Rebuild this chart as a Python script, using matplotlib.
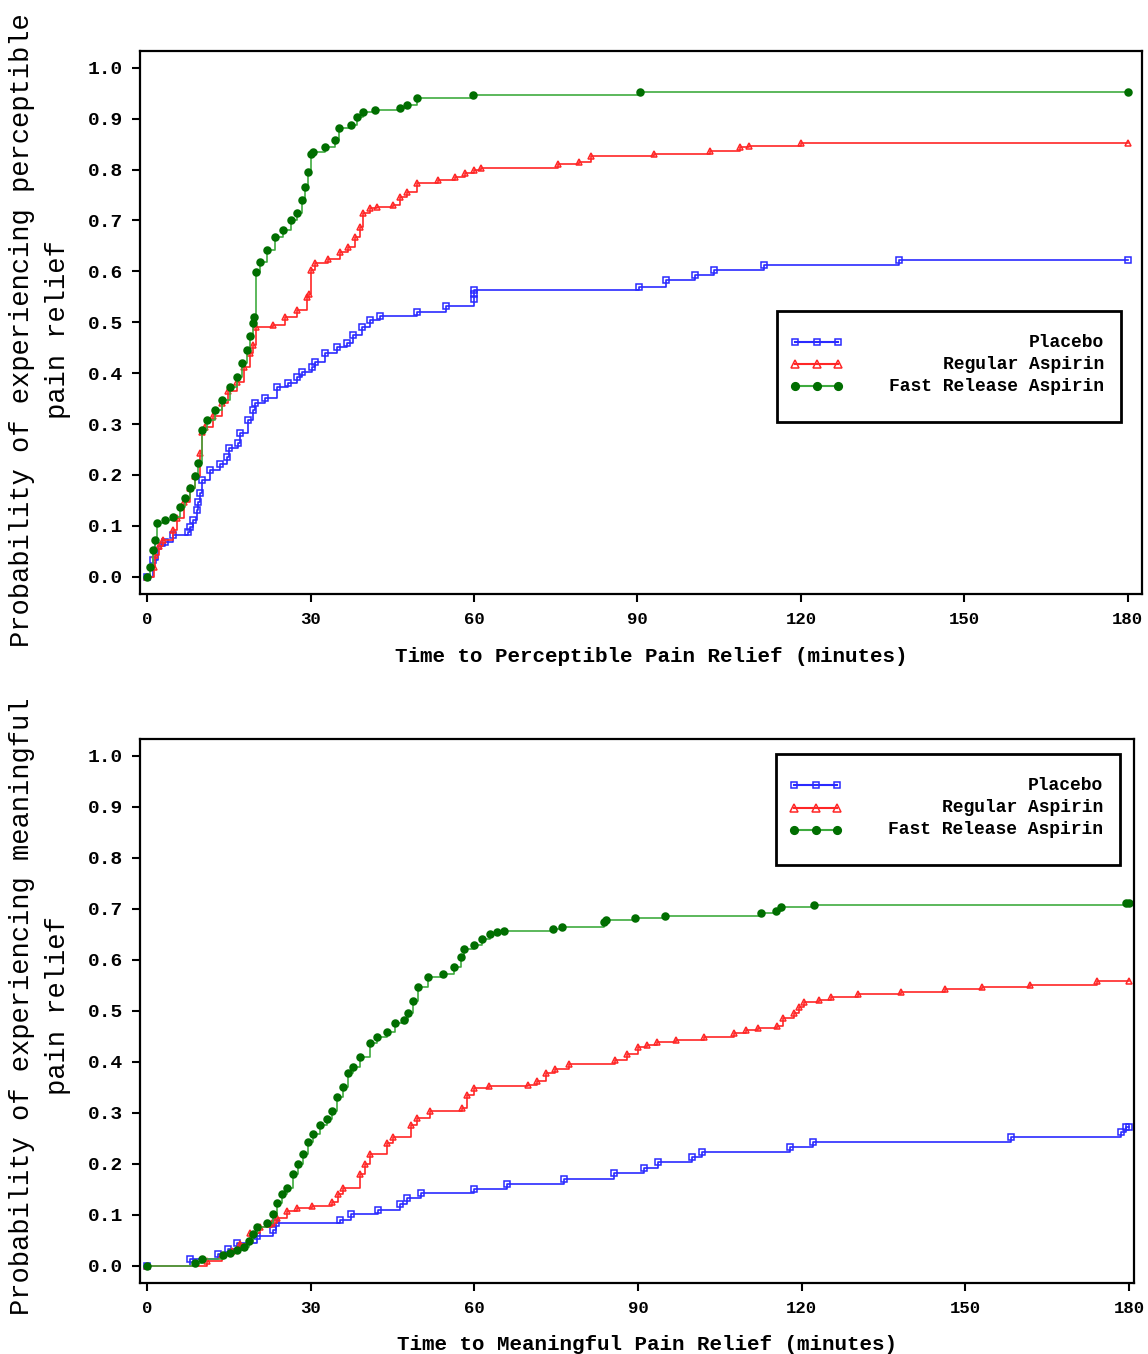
import matplotlib
matplotlib.use("Agg")
import matplotlib.pyplot as plt
from matplotlib.patches import Rectangle

MONO = "Liberation Mono"

groups = ["Placebo", "Regular Aspirin", "Fast Release Aspirin"]

# ---- top panel: time to perceptible pain relief (KM steps)
perc_placebo_t = [0, 1.1, 2.0, 3.3, 4.8, 7.5, 7.9, 8.5, 9.1, 9.4, 9.7, 10.0, 11.6, 13.4, 14.7, 15.1,
                  16.7, 17.1, 18.5, 19.5, 19.8, 21.7, 23.8, 25.9, 27.5, 28.5, 30.3, 30.8, 32.7, 34.8,
                  36.7, 37.8, 39.4, 40.9, 42.8, 49.5, 54.9, 60.0, 60.0, 60.0, 90.2, 95.3, 100.6,
                  104.0, 113.2, 138.0, 180]
perc_placebo_p = [0.0, 0.033, 0.06, 0.068, 0.082, 0.088, 0.098, 0.112, 0.132, 0.147, 0.165, 0.19,
                  0.21, 0.222, 0.236, 0.253, 0.263, 0.283, 0.308, 0.328, 0.342, 0.352, 0.373, 0.381,
                  0.393, 0.403, 0.413, 0.422, 0.44, 0.452, 0.46, 0.475, 0.491, 0.505, 0.513, 0.52,
                  0.532, 0.545, 0.555, 0.564, 0.57, 0.583, 0.593, 0.602, 0.613, 0.623, 0.623]

perc_regular_t = [0, 1.2, 1.5, 2.1, 3.0, 4.8, 5.5, 6.7, 7.9, 8.8, 9.7, 10.0, 10.6, 12.1, 13.7, 14.9,
                  16.5, 17.7, 18.9, 19.5, 20.0, 23.1, 25.3, 27.5, 29.3, 29.7, 30.0, 30.8, 33.2, 35.4,
                  36.9, 38.2, 39.1, 39.7, 40.9, 42.2, 45.1, 46.4, 47.7, 49.5, 53.4, 56.5, 58.3, 60.0,
                  61.2, 75.5, 79.2, 81.5, 93.0, 103.4, 108.9, 110.5, 120.0, 180]
perc_regular_p = [0.0, 0.02, 0.043, 0.06, 0.073, 0.092, 0.116, 0.147, 0.175, 0.197, 0.244, 0.285,
                  0.295, 0.315, 0.342, 0.364, 0.383, 0.413, 0.44, 0.456, 0.491, 0.495, 0.51, 0.525,
                  0.55, 0.555, 0.603, 0.617, 0.625, 0.639, 0.648, 0.668, 0.688, 0.715, 0.725, 0.727,
                  0.731, 0.747, 0.756, 0.774, 0.78, 0.786, 0.793, 0.80, 0.803, 0.81, 0.815, 0.826,
                  0.831, 0.836, 0.844, 0.846, 0.852, 0.852]

perc_fast_t = [0, 0.6, 1.0, 1.5, 1.8, 3.3, 4.8, 6.1, 7.0, 7.9, 8.8, 9.4, 10.0, 11.0, 12.5, 13.7,
               15.2, 16.5, 17.4, 18.3, 18.9, 19.4, 19.7, 20.0, 20.7, 22.0, 23.5, 25.0, 26.5, 27.5,
               28.4, 29.0, 29.5, 30.0, 30.5, 32.7, 34.5, 35.2, 37.4, 38.5, 39.7, 41.8, 46.4, 47.7,
               49.5, 59.9, 90.5, 180]
perc_fast_p = [0.0, 0.02, 0.053, 0.073, 0.106, 0.112, 0.118, 0.136, 0.155, 0.175, 0.197, 0.224,
               0.289, 0.308, 0.328, 0.348, 0.373, 0.393, 0.42, 0.446, 0.472, 0.499, 0.51, 0.599,
               0.619, 0.642, 0.668, 0.682, 0.70, 0.715, 0.74, 0.766, 0.795, 0.830, 0.835, 0.845,
               0.858, 0.882, 0.888, 0.904, 0.913, 0.917, 0.921, 0.927, 0.941, 0.947, 0.953, 0.953]

# ---- bottom panel: time to meaningful pain relief
mean_placebo_t = [0, 7.9, 13.0, 14.9, 16.5, 20.1, 23.1, 23.6, 35.4, 37.3, 42.4, 46.3, 47.6, 50.2,
                  60.0, 66.0, 76.5, 85.6, 91.0, 93.7, 99.9, 101.8, 117.9, 122.0, 158.4, 178.5,
                  179.5, 180]
mean_placebo_p = [0.0, 0.014, 0.023, 0.033, 0.045, 0.058, 0.069, 0.083, 0.09, 0.102, 0.11, 0.12,
                  0.133, 0.142, 0.151, 0.161, 0.17, 0.181, 0.192, 0.203, 0.213, 0.223, 0.232,
                  0.242, 0.253, 0.262, 0.272, 0.272]

mean_regular_t = [0, 11.0, 13.8, 15.6, 17.1, 18.9, 20.7, 22.9, 23.8, 25.7, 27.5, 30.3, 33.9, 35.0,
                  36.0, 39.0, 40.0, 40.9, 44.0, 45.1, 48.3, 49.5, 51.9, 57.8, 58.7, 59.9, 62.6,
                  69.9, 71.5, 73.2, 74.8, 77.3, 85.8, 88.0, 89.9, 91.6, 93.5, 96.9, 102.0, 107.6,
                  109.7, 111.9, 115.5, 116.5, 118.5, 119.5, 120.4, 123.1, 125.3, 130.4, 138.2,
                  146.3, 153.1, 161.8, 174.2, 180]
mean_regular_p = [0.0, 0.01, 0.02, 0.029, 0.043, 0.065, 0.075, 0.083, 0.094, 0.108, 0.114, 0.118,
                  0.124, 0.141, 0.153, 0.18, 0.20, 0.22, 0.24, 0.252, 0.275, 0.289, 0.304, 0.31,
                  0.334, 0.348, 0.352, 0.355, 0.362, 0.377, 0.385, 0.395, 0.404, 0.416, 0.429,
                  0.432, 0.438, 0.442, 0.448, 0.456, 0.462, 0.466, 0.471, 0.485, 0.495, 0.507,
                  0.517, 0.522, 0.527, 0.532, 0.537, 0.542, 0.547, 0.551, 0.559, 0.559]

mean_fast_t = [0, 8.8, 10.0, 14.0, 15.2, 16.5, 17.7, 18.6, 19.5, 20.1, 22.0, 23.1, 23.8, 24.8,
               25.7, 26.8, 27.7, 28.6, 29.5, 30.5, 31.7, 33.0, 33.9, 34.8, 36.0, 36.9, 37.8, 39.0,
               40.9, 42.2, 44.0, 45.5, 47.0, 47.9, 48.8, 49.7, 51.4, 54.2, 56.3, 57.6, 58.0, 60.0,
               61.3, 62.9, 64.2, 65.4, 74.4, 76.0, 83.8, 84.2, 89.5, 94.9, 112.6, 115.2, 116.2,
               122.2, 179.4, 180]
mean_fast_p = [0.0, 0.006, 0.014, 0.02, 0.024, 0.03, 0.036, 0.049, 0.063, 0.075, 0.084, 0.102,
               0.122, 0.141, 0.153, 0.18, 0.20, 0.22, 0.242, 0.259, 0.275, 0.288, 0.304, 0.33,
               0.35, 0.377, 0.389, 0.409, 0.436, 0.448, 0.458, 0.475, 0.481, 0.495, 0.52, 0.546,
               0.566, 0.573, 0.585, 0.605, 0.621, 0.628, 0.641, 0.651, 0.654, 0.657, 0.661, 0.665,
               0.674, 0.678, 0.681, 0.686, 0.691, 0.696, 0.703, 0.707, 0.712, 0.712]

xticks = [0, 30, 60, 90, 120, 150, 180]
yticks = [0.0, 0.1, 0.2, 0.3, 0.4, 0.5, 0.6, 0.7, 0.8, 0.9, 1.0]

styles = {
    "Placebo": dict(line="#2a2aff", marker="s", mfc="none", mec="#2a2aff", ms=4.5),
    "Regular Aspirin": dict(line="#ff2626", marker="^", mfc="none", mec="#ff2626", ms=5),
    "Fast Release Aspirin": dict(line="#3fab3f", marker="o", mfc="#006e00", mec="#006e00", ms=5),
}


def draw_curves(ax, series):
    for name, (t, p) in zip(groups, series):
        s = styles[name]
        ax.step(t, p, where="post", color=s["line"], lw=1.2)
        ax.plot(t, p, ls="none", marker=s["marker"], ms=s["ms"], mfc=s["mfc"],
                mec=s["mec"], mew=1.1)


def style_axes(ax, xmax):
    ax.set_xlim(-1.3, xmax)
    ax.set_ylim(-0.034, 1.033)
    ax.set_xticks(xticks)
    ax.set_xticklabels([str(v) for v in xticks], fontfamily=MONO, fontweight="bold", fontsize=12.5)
    ax.set_yticks(yticks)
    ax.set_yticklabels(["%.1f" % v for v in yticks], fontfamily=MONO, fontweight="bold", fontsize=14)
    for sp in ["top", "right", "left", "bottom"]:
        ax.spines[sp].set_linewidth(1.6)
    ax.tick_params(axis="both", direction="out", length=6, width=1.5)
    ax.tick_params(axis="y", pad=6)
    ax.tick_params(axis="x", pad=7)


def draw_legend(ax, x0, y0, w, h):
    # boxed legend, labels right aligned like the SAS output
    ax.add_patch(Rectangle((x0, y0), w, h, transform=ax.transAxes, fill=False,
                           lw=2, ec="black", zorder=5))
    rows = [y0 + h * 0.72, y0 + h * 0.52, y0 + h * 0.32]
    hx = [x0 + w * 0.052, x0 + w * 0.116, x0 + w * 0.177]
    for name, ry in zip(groups, rows):
        s = styles[name]
        ax.plot(hx, [ry] * 3, transform=ax.transAxes, color=s["line"], lw=1.5,
                marker=s["marker"], ms=s["ms"] + 0.5, mfc=s["mfc"], mec=s["mec"], mew=1.1,
                clip_on=False, zorder=6)
        ax.text(x0 + w * 0.95, ry, name, transform=ax.transAxes, ha="right", va="center",
                fontfamily=MONO, fontweight="bold", fontsize=13, zorder=6)


fig = plt.figure(figsize=(11.48, 13.54), dpi=100)
W, H = 1148.0, 1354.0
ax1 = fig.add_axes([140 / W, 1 - 594 / H, 1002 / W, 543 / H])
ax2 = fig.add_axes([140 / W, 1 - 1283 / H, 994 / W, 544 / H])

draw_curves(ax1, [(perc_placebo_t, perc_placebo_p), (perc_regular_t, perc_regular_p),
                  (perc_fast_t, perc_fast_p)])
draw_curves(ax2, [(mean_placebo_t, mean_placebo_p), (mean_regular_t, mean_regular_p),
                  (mean_fast_t, mean_fast_p)])

style_axes(ax1, 182.6)
style_axes(ax2, 180.9)

draw_legend(ax1, 0.636, 0.317, 0.343, 0.204)
draw_legend(ax2, 0.640, 0.768, 0.346, 0.204)

ax1.set_xlabel("Time to Perceptible Pain Relief (minutes)", fontfamily=MONO,
               fontweight="bold", fontsize=15)
ax1.xaxis.set_label_coords(0.51, -0.097)
ax2.set_xlabel("Time to Meaningful Pain Relief (minutes)", fontfamily=MONO,
               fontweight="bold", fontsize=15)
ax2.xaxis.set_label_coords(0.51, -0.095)

fig.text(40 / W, 1 - 330 / H, "Probability of experiencing perceptible\npain relief",
         rotation=90, ha="center", va="center", multialignment="center",
         fontfamily=MONO, fontsize=19.5, linespacing=1.5)
fig.text(40 / W, 1 - 1006 / H, "Probability of experiencing meaningful\npain relief",
         rotation=90, ha="center", va="center", multialignment="center",
         fontfamily=MONO, fontsize=19.5, linespacing=1.5)

fig.savefig("out.png", dpi=100)
